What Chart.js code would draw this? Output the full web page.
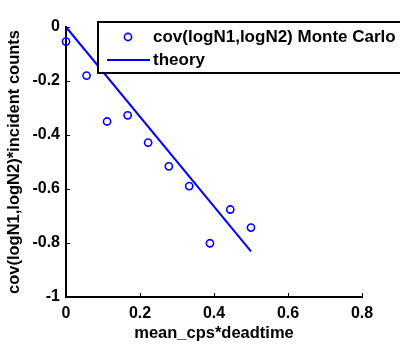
<!DOCTYPE html>
<html><head><meta charset="utf-8">
<script src="https://cdn.jsdelivr.net/npm/chart.js@4"></script>
<style>html,body{margin:0;padding:0;background:#fff}#c{display:block}</style>
</head><body>
<canvas id="c" width="400" height="345"></canvas>
<script>
const mcX = [0, 0.0556, 0.111, 0.1667, 0.222, 0.278, 0.333, 0.389, 0.444, 0.5];
const mcY = [-0.054, -0.180, -0.350, -0.327, -0.428, -0.516, -0.589, -0.801, -0.676, -0.743];
const theoryX = [0, 0.5];
const theoryY = [0, -0.831];
const xTicks = [0, 0.2, 0.4, 0.6, 0.8];
const yTicks = [-1, -0.8, -0.6, -0.4, -0.2, 0];
const labels = ['cov(logN1,logN2) Monte Carlo', 'theory'];

const FONT = "'Liberation Sans', Arial, sans-serif";
const BLUE = '#0000ff';
const F = { family: FONT, size: 16, weight: 'bold' };
const FT = { family: FONT, size: 16.5, weight: 'bold' };

const innerTicks = {
  id: 'innerTicks',
  afterDraw(chart) {
    const ctx = chart.ctx, a = chart.chartArea;
    const xs = chart.scales.x, ys = chart.scales.y;
    ctx.save();
    ctx.strokeStyle = '#000'; ctx.lineWidth = 1;
    ctx.beginPath();
    xTicks.forEach(v => { const p = Math.round(xs.getPixelForValue(v)) + 0.5; ctx.moveTo(p, a.bottom); ctx.lineTo(p, a.bottom - 4); });
    yTicks.forEach(v => { const p = Math.round(ys.getPixelForValue(v)) + 0.5; ctx.moveTo(a.left, p); ctx.lineTo(a.left + 4, p); });
    ctx.stroke();
    // legend
    const bx = 98, by = 22, bw = 320, bh = 51;
    ctx.fillStyle = '#fff';
    ctx.fillRect(bx, by, bw, bh);
    ctx.lineWidth = 2; ctx.strokeStyle = '#000';
    ctx.strokeRect(bx, by, bw, bh);
    ctx.strokeStyle = BLUE; ctx.lineWidth = 1.6;
    ctx.beginPath(); ctx.arc(128, 37, 3.6, 0, Math.PI * 2); ctx.stroke();
    ctx.lineWidth = 2;
    ctx.beginPath(); ctx.moveTo(107, 60); ctx.lineTo(150, 60); ctx.stroke();
    ctx.fillStyle = '#000';
    ctx.font = 'bold 17px ' + FONT;
    ctx.textBaseline = 'middle'; ctx.textAlign = 'left';
    ctx.fillText(chart.data.datasets[0].label, 153, 37);
    ctx.fillText(chart.data.datasets[1].label, 153, 60);
    ctx.restore();
  }
};

new Chart(document.getElementById('c'), {
  type: 'scatter',
  data: {
    datasets: [
      { label: labels[0], data: mcX.map((x, i) => ({x, y: mcY[i]})), showLine: false,
        pointStyle: 'circle', pointRadius: 3.6, pointBorderWidth: 1.6, borderColor: BLUE,
        backgroundColor: 'rgba(0,0,0,0)', pointBackgroundColor: 'rgba(0,0,0,0)', clip: false },
      { label: labels[1], data: theoryX.map((x, i) => ({x, y: theoryY[i]})), showLine: true,
        pointRadius: 0, borderColor: BLUE, borderWidth: 2, clip: false }
    ]
  },
  options: {
    responsive: false, animation: false,
    layout: { padding: { left: 0, right: 38, top: 27, bottom: 0 } },
    plugins: { legend: { display: false }, tooltip: { enabled: false } },
    scales: {
      x: {
        type: 'linear', min: 0, max: 0.8,
        afterBuildTicks: s => { s.ticks = xTicks.map(v => ({value: v})); },
        afterFit: s => { s.height = 48; },
        grid: { display: false, drawTicks: false },
        border: { display: true, color: '#000', width: 2 },
        ticks: { color: '#000', font: F, padding: 7, maxRotation: 0,
          callback: v => String(v) },
        title: { display: true, text: 'mean_cps*deadtime', color: '#000',
          font: FT, padding: { top: 0, bottom: 2 } }
      },
      y: {
        type: 'linear', min: -1, max: 0,
        afterBuildTicks: s => { s.ticks = yTicks.map(v => ({value: v})); },
        afterFit: s => { s.width = 66; },
        grid: { display: false, drawTicks: false },
        border: { display: true, color: '#000', width: 2 },
        ticks: { color: '#000', font: F, padding: 6,
          callback: v => String(v) },
        title: { display: true, text: 'cov(logN1,logN2)*incident counts', color: '#000',
          font: FT, padding: { top: 5, bottom: 0 } }
      }
    }
  },
  plugins: [innerTicks]
});
</script>
</body></html>
